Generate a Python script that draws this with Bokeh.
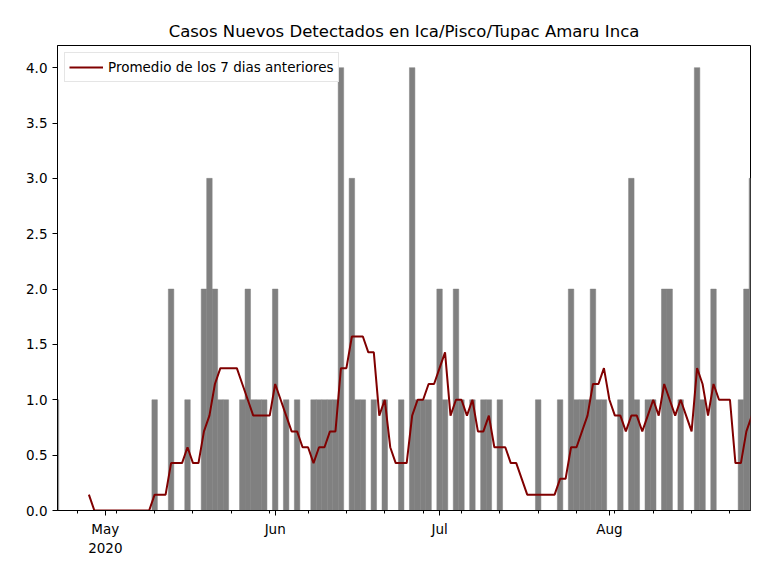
import pandas as pd
from bokeh.plotting import figure
from bokeh.models import ColumnDataSource, FixedTicker, Range1d, NumeralTickFormatter
from bokeh.embed import file_html
from bokeh.resources import INLINE

start = pd.Timestamp("2020-04-22")
n_days = 128
# dia (desde el 22 de abril) -> casos nuevos
casos_dias = [0, 18, 21, 24, 27, 28, 29, 30, 31, 34, 35, 36, 37, 38, 40, 42, 44,
              47, 48, 49, 50, 51, 52, 54, 55, 56, 58, 60, 63, 65, 66, 67, 68, 70,
              71, 73, 74, 76, 78, 79, 81, 88, 92, 94, 95, 96, 97, 98, 99, 100,
              103, 105, 106, 108, 109, 111, 112, 114, 117, 118, 120, 125, 126, 127]
casos_vals = [1, 1, 2, 1, 2, 3, 2, 1, 1, 1, 2, 1, 1, 1, 2, 1, 1,
              1, 1, 1, 1, 1, 4, 3, 1, 1, 1, 1, 1, 4, 1, 1, 1, 2,
              1, 2, 1, 1, 1, 1, 1, 1, 1, 2, 1, 1, 1, 2, 1, 1,
              1, 3, 1, 1, 1, 2, 2, 1, 4, 1, 2, 1, 2, 3]

fechas = pd.date_range(start, periods=n_days, freq="D")
casos = pd.Series(0.0, index=fechas)
for d, v in zip(casos_dias, casos_vals):
    casos.iloc[d] = v
promedio = casos.rolling(7).mean()

src = ColumnDataSource(dict(fecha=fechas, casos=casos.values, prom=promedio.values))

day_ms = 86400000
x0 = start + pd.Timedelta(hours=6.5)
x1 = start + pd.Timedelta(days=126.75)

p = figure(width=768, height=568, x_axis_type="datetime", output_backend="svg",
           toolbar_location=None, title="Casos Nuevos Detectados en Ica/Pisco/Tupac Amaru Inca",
           x_range=Range1d(x0, x1), y_range=Range1d(0, 4.2),
           min_border_left=57, min_border_right=18, min_border_top=45, min_border_bottom=58)

p.vbar(x="fecha", top="casos", width=day_ms, source=src, color="#808080",
       line_color="#808080", line_width=0.5)
p.line(x="fecha", y="prom", source=src, color="#800000", line_width=2,
       legend_label="Promedio de los 7 dias anteriores")

mes = [pd.Timestamp(f"2020-{m:02d}-01") for m in (5, 6, 7, 8)]
mes_ms = [t.value // 10**6 for t in mes]
semanas = pd.date_range("2020-04-26", "2020-08-30", freq="7D")
p.xaxis.ticker = FixedTicker(ticks=mes_ms, minor_ticks=[t.value // 10**6 for t in semanas])
p.xaxis.major_label_overrides = {mes_ms[0]: "May\n2020", mes_ms[1]: "Jun",
                                 mes_ms[2]: "Jul", mes_ms[3]: "Aug"}
p.yaxis.ticker = FixedTicker(ticks=[i * 0.5 for i in range(9)])
p.yaxis.formatter = NumeralTickFormatter(format="0.0")

for ax in (p.xaxis[0], p.yaxis[0]):
    ax.axis_line_color = "black"
    ax.major_tick_line_color = "black"
    ax.minor_tick_line_color = "black"
    ax.major_tick_out = 5
    ax.major_tick_in = 0
    ax.minor_tick_out = 3
    ax.minor_tick_in = 0
    ax.major_label_text_font = "DejaVu Sans"
    ax.major_label_text_font_size = "13.5px"
    ax.major_label_text_color = "black"
p.yaxis.minor_tick_line_color = None

p.xgrid.visible = False
p.ygrid.visible = False
p.outline_line_color = "black"
p.outline_line_alpha = 1

p.title.align = "center"
p.title.text_font = "DejaVu Sans"
p.title.text_font_size = "16.5px"
p.title.text_font_style = "normal"
p.title.text_color = "black"

p.legend.location = "top_left"
p.legend.label_text_font = "DejaVu Sans"
p.legend.label_text_font_size = "13.5px"
p.legend.label_text_color = "black"
p.legend.border_line_color = "#cccccc"
p.legend.margin = 7
p.legend.padding = 4
p.legend.spacing = 0
p.legend.glyph_width = 34

open("out.html", "w").write(file_html(p, INLINE))
